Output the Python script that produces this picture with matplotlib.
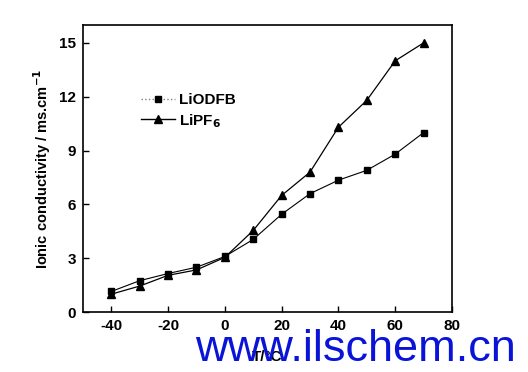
import matplotlib
matplotlib.use("Agg")
import matplotlib.pyplot as plt
from matplotlib.lines import Line2D

# temperatura y conductividad
temp = [-40, -30, -20, -10, 0, 10, 20, 30, 40, 50, 60, 70]
liodfb = [1.15, 1.75, 2.15, 2.5, 3.1, 4.05, 5.45, 6.6, 7.35, 7.9, 8.8, 10.0]
lipf6 = [1.0, 1.45, 2.05, 2.35, 3.05, 4.55, 6.5, 7.8, 10.3, 11.8, 14.0, 15.0]

plt.rcParams['font.family'] = ['Liberation Sans', 'DejaVu Sans']
plt.rcParams['font.weight'] = 'bold'
plt.rcParams['axes.unicode_minus'] = False

fig = plt.figure(figsize=(5.28, 3.72), dpi=100)
ax = fig.add_axes([0.157, 0.161, 0.699, 0.772])

ax.plot(temp, liodfb, color='black', lw=0.8, marker='s', ms=5)
ax.plot(temp, lipf6, color='black', lw=0.9, marker='^', ms=6)

ax.set_xlim(-50, 80)
ax.set_ylim(0, 16)
ax.set_xticks([-40, -20, 0, 20, 40, 60, 80])
ax.set_yticks([0, 3, 6, 9, 12, 15])
ax.tick_params(direction='in', labelsize=11, length=4, width=1, pad=5)
for lbl in ax.get_xticklabels() + ax.get_yticklabels():
    lbl.set_fontweight('bold')
for s in ax.spines.values():
    s.set_linewidth(1.2)

ax.set_ylabel('Ionic conductivity / ms.cm$^{\\mathbf{-1}}$', fontsize=10.5, fontweight='bold')
ax.set_xlabel('T/\u00b0C', fontsize=11, fontweight='bold', labelpad=12)

handles = [
    Line2D([], [], color='gray', ls=':', lw=1, marker='s', ms=5, markerfacecolor='black', markeredgecolor='black'),
    Line2D([], [], color='black', lw=1, marker='^', ms=6),
]
ax.legend(handles, ['LiODFB', 'LiPF$_\\mathbf{6}$'], loc='upper left', bbox_to_anchor=(0.12, 0.81),
          frameon=False, prop={'weight': 'bold', 'size': 11}, handlelength=2.2, handletextpad=0.3,
          labelspacing=0.3)

# marca de agua
fig.text(0.977, 0.005, 'www.ilschem.cn', color='#0a14d8', fontsize=32.5, ha='right', va='bottom',
         fontweight='normal', zorder=10)

fig.savefig('out.png', dpi=100)
